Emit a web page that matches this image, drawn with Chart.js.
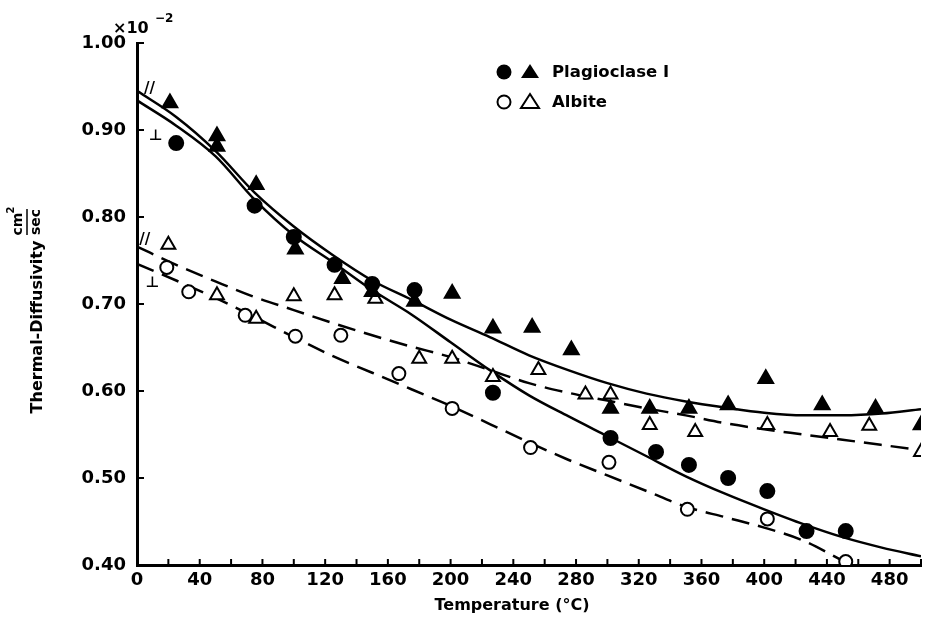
<!DOCTYPE html>
<html>
<head>
<meta charset="utf-8">
<script src="https://cdn.jsdelivr.net/npm/chart.js@4.4.0/dist/chart.umd.min.js"></script>
<style>
  html, body { margin: 0; padding: 0; background: #fff; }
</style>
</head>
<body>
<canvas id="chart" width="932" height="620"></canvas>
<script>
// measured points (temperature °C, diffusivity x10^-2 cm2/sec)
const plagCircleT = [25, 75, 100, 126, 150, 177, 227, 302, 331, 352, 377, 402, 427, 452];
const plagCircleD = [0.885, 0.813, 0.777, 0.745, 0.723, 0.716, 0.598, 0.546, 0.530, 0.515, 0.500, 0.485, 0.439, 0.439];
const plagTriT = [21, 51, 51, 76, 101, 131, 150, 177, 201, 227, 252, 277, 302, 327, 352, 377, 401, 437, 471, 500];
const plagTriD = [0.931, 0.893, 0.881, 0.837, 0.763, 0.729, 0.714, 0.703, 0.712, 0.672, 0.673, 0.647, 0.580, 0.580, 0.580, 0.584, 0.614, 0.584, 0.580, 0.561];
const albCircleT = [19, 33, 69, 101, 130, 167, 201, 251, 301, 351, 402, 452];
const albCircleD = [0.742, 0.714, 0.687, 0.663, 0.664, 0.620, 0.580, 0.535, 0.518, 0.464, 0.453, 0.404];
const albTriT = [20, 51, 76, 100, 126, 152, 180, 201, 227, 256, 286, 302, 327, 356, 402, 442, 467, 500];
const albTriD = [0.768, 0.710, 0.683, 0.709, 0.710, 0.706, 0.637, 0.637, 0.616, 0.624, 0.596, 0.596, 0.561, 0.553, 0.561, 0.553, 0.560, 0.530];

// fitted curves, every 25 °C
const fitT = [0, 25, 50, 75, 100, 125, 150, 175, 200, 225, 250, 275, 300, 325, 350, 375, 400, 425, 450, 475, 500];
const plagPar = [0.945, 0.915, 0.876, 0.828, 0.789, 0.756, 0.727, 0.705, 0.682, 0.662, 0.641, 0.624, 0.609, 0.597, 0.588, 0.581, 0.575, 0.572, 0.572, 0.574, 0.579];
const plagPerp = [0.934, 0.905, 0.870, 0.820, 0.779, 0.748, 0.716, 0.688, 0.656, 0.624, 0.595, 0.571, 0.548, 0.525, 0.502, 0.482, 0.464, 0.447, 0.432, 0.420, 0.410];
const albPar = [0.766, 0.745, 0.726, 0.708, 0.693, 0.678, 0.664, 0.651, 0.639, 0.624, 0.609, 0.598, 0.589, 0.580, 0.572, 0.563, 0.556, 0.550, 0.544, 0.538, 0.532];
const albPerp = [0.746, 0.727, 0.707, 0.685, 0.662, 0.640, 0.621, 0.602, 0.583, 0.562, 0.541, 0.521, 0.503, 0.485, 0.467, 0.455, 0.443, 0.428, 0.405];

const legendLabels = ["Plagioclase I", "Albite"];
const xTitle = "Temperature (\u00B0C)";
const yTitle = "Thermal-Diffusivity";
const FONT = "'DejaVu Sans', sans-serif";

function pts(xs, ys) {
  return xs.map((x, i) => ({ x: x, y: ys[i] }));
}

function marks(label, xs, ys, style, filled, r) {
  return {
    label: label,
    data: pts(xs, ys),
    showLine: false,
    pointStyle: style,
    pointRadius: r,
    pointBackgroundColor: filled ? "#000" : "#fff",
    pointBorderColor: "#000",
    pointBorderWidth: 2
  };
}

function curve(label, xs, ys, dash) {
  return {
    label: label,
    data: pts(xs, ys),
    showLine: true,
    borderColor: "#000",
    borderWidth: 2.5,
    borderDash: dash,
    pointRadius: 0,
    cubicInterpolationMode: "monotone",
    fill: false
  };
}

// inward ticks, legend, annotations, titles
const decor = {
  id: "decor",
  afterDraw(chart) {
    const { ctx, scales: { x, y } } = chart;
    ctx.save();
    ctx.strokeStyle = "#000";
    ctx.fillStyle = "#000";
    ctx.lineWidth = 2;
    x.ticks.forEach(t => {
      const px = x.getPixelForValue(t.value);
      ctx.beginPath();
      ctx.moveTo(px, y.bottom);
      ctx.lineTo(px, y.bottom - 6);
      ctx.stroke();
    });
    y.ticks.forEach(t => {
      const py = y.getPixelForValue(t.value);
      ctx.beginPath();
      ctx.moveTo(x.left, py);
      ctx.lineTo(x.left + 7, py);
      ctx.stroke();
    });

    // curve tags
    ctx.font = "bold 15px " + FONT;
    ctx.textAlign = "center";
    ctx.textBaseline = "middle";
    ctx.fillText("//", x.getPixelForValue(8), y.getPixelForValue(0.947));
    ctx.fillText("\u22A5", x.getPixelForValue(12), y.getPixelForValue(0.893));
    ctx.fillText("//", x.getPixelForValue(5), y.getPixelForValue(0.774));
    ctx.fillText("\u22A5", x.getPixelForValue(10), y.getPixelForValue(0.724));

    // legend
    const rows = [72, 102];
    rows.forEach((ly, i) => {
      const filled = i === 0;
      ctx.lineWidth = 2;
      ctx.beginPath();
      ctx.arc(504, ly, filled ? 7.5 : 6.5, 0, Math.PI * 2);
      if (filled) ctx.fill(); else ctx.stroke();
      ctx.beginPath();
      ctx.moveTo(530, ly - 8);
      ctx.lineTo(539, ly + 6);
      ctx.lineTo(521, ly + 6);
      ctx.closePath();
      if (filled) ctx.fill(); else ctx.stroke();
      ctx.font = "bold 16.5px " + FONT;
      ctx.textAlign = "left";
      ctx.fillText(legendLabels[i], 552, ly + 1);
    });

    // x title
    ctx.font = "bold 16px " + FONT;
    ctx.textAlign = "center";
    ctx.fillText(xTitle, 512, 606);

    // x10^-2
    ctx.textAlign = "left";
    ctx.textBaseline = "alphabetic";
    ctx.font = "bold 16px " + FONT;
    ctx.fillText("\u00D710", 113, 33);
    ctx.font = "bold 12px " + FONT;
    ctx.fillText("\u22122", 155, 22);

    // y title with cm2/sec fraction
    ctx.translate(38, 327);
    ctx.rotate(-Math.PI / 2);
    ctx.textAlign = "center";
    ctx.textBaseline = "middle";
    ctx.font = "bold 16px " + FONT;
    ctx.fillText(yTitle, 0, 0);
    ctx.font = "bold 14px " + FONT;
    ctx.fillText("sec", 105, -2);
    ctx.fillText("cm", 103, -20);
    ctx.font = "bold 10px " + FONT;
    ctx.fillText("2", 117, -27);
    ctx.lineWidth = 1.5;
    ctx.beginPath();
    ctx.moveTo(92, -11);
    ctx.lineTo(118, -11);
    ctx.stroke();
    ctx.restore();
  }
};

new Chart(document.getElementById("chart"), {
  type: "scatter",
  data: {
    datasets: [
      marks("Plagioclase I circles", plagCircleT, plagCircleD, "circle", true, 7),
      marks("Plagioclase I triangles", plagTriT, plagTriD, "triangle", true, 8.5),
      marks("Albite circles", albCircleT, albCircleD, "circle", false, 6.5),
      marks("Albite triangles", albTriT, albTriD, "triangle", false, 8),
      curve("Plagioclase //", fitT, plagPar, []),
      curve("Plagioclase perp", fitT, plagPerp, []),
      curve("Albite //", fitT, albPar, [18, 9]),
      curve("Albite perp", fitT.slice(0, albPerp.length), albPerp, [18, 9])
    ]
  },
  options: {
    responsive: false,
    animation: false,
    layout: { padding: { left: 0, top: 43, right: 11, bottom: 0 } },
    plugins: { legend: { display: false }, tooltip: { enabled: false } },
    scales: {
      x: {
        type: "linear",
        min: 0,
        max: 500,
        afterFit: s => { s.height = 55; },
        border: { display: true, color: "#000", width: 3 },
        grid: { display: false, drawTicks: false },
        ticks: {
          stepSize: 20,
          autoSkip: false,
          maxRotation: 0,
          padding: 5,
          color: "#000",
          font: { family: FONT, size: 18, weight: "bold" },
          callback: v => (v % 40 === 0 && v <= 480 ? String(v) : "")
        }
      },
      y: {
        type: "linear",
        min: 0.4,
        max: 1.0,
        afterFit: s => { s.width = 137; },
        border: { display: true, color: "#000", width: 3 },
        grid: { display: false, drawTicks: false },
        ticks: {
          stepSize: 0.1,
          padding: 11,
          color: "#000",
          font: { family: FONT, size: 18, weight: "bold" },
          callback: v => v.toFixed(2)
        }
      }
    }
  },
  plugins: [decor]
});
</script>
</body>
</html>
